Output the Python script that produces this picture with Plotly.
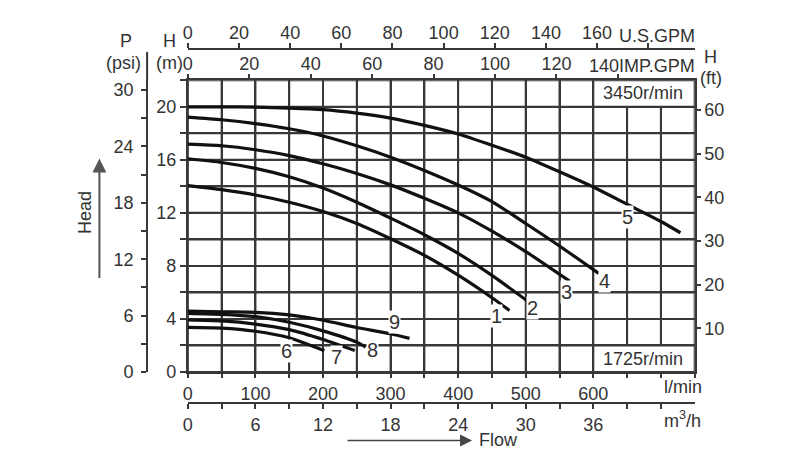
import plotly.graph_objects as go

# ---------------- data ----------------
# flow in l/min, head in m
c1_q = [0, 50, 100, 150, 200, 250, 300, 350, 400, 450, 476]
c1_h = [14.06, 13.75, 13.35, 12.8, 12.1, 11.2, 10.05, 8.8, 7.3, 5.6, 4.64]
c2_q = [0, 50, 100, 150, 200, 250, 300, 350, 400, 450, 504]
c2_h = [16.08, 15.8, 15.35, 14.72, 13.87, 12.8, 11.6, 10.35, 8.94, 7.28, 5.3]
c3_q = [0, 50, 100, 150, 200, 250, 300, 350, 400, 450, 500, 565]
c3_h = [17.18, 17.06, 16.76, 16.32, 15.7, 14.97, 14.11, 13.1, 12.0, 10.62, 9.08, 6.85]
c4_q = [0, 50, 100, 150, 200, 250, 300, 350, 400, 450, 500, 550, 608]
c4_h = [19.22, 19.02, 18.73, 18.34, 17.8, 17.06, 16.2, 15.2, 14.1, 12.85, 11.2, 9.5, 7.44]
c5_q = [0, 50, 100, 150, 200, 250, 300, 350, 400, 450, 500, 550, 600, 650, 700, 729]
c5_h = [20.0, 20.0, 19.97, 19.9, 19.78, 19.52, 19.15, 18.6, 17.95, 17.1, 16.2, 15.1, 13.95, 12.65, 11.35, 10.5]
c6_q = [0, 50, 100, 150, 202]
c6_h = [3.36, 3.31, 3.07, 2.58, 1.6]
c7_q = [0, 50, 100, 150, 200, 247]
c7_h = [3.93, 3.85, 3.61, 3.19, 2.45, 1.62]
c8_q = [0, 50, 100, 150, 200, 250, 263]
c8_h = [4.42, 4.35, 4.17, 3.75, 3.1, 2.25, 1.88]
c9_q = [0, 50, 100, 150, 200, 250, 300, 328]
c9_h = [4.59, 4.54, 4.5, 4.3, 3.9, 3.35, 2.88, 2.53]

curve_names = ["1", "2", "3", "4", "5", "6", "7", "8", "9"]
curve_label_q = [457, 510, 560, 616, 650, 146, 220, 273, 306]
curve_label_h = [4.2, 4.8, 6.0, 6.87, 11.65, 1.55, 1.1, 1.67, 3.75]

lpm_ticks = list(range(0, 751, 50))
lpm_labels = [0, 100, 200, 300, 400, 500, 600]
m3h_ticks = list(range(0, 43, 3))
m3h_labels = [0, 6, 12, 18, 24, 30, 36]
head_m_ticks = list(range(0, 23, 2))
head_m_labels = [0, 4, 8, 12, 16, 20]
psi_ticks = list(range(0, 31, 3))
psi_labels = [0, 6, 12, 18, 24, 30]
ft_labels = [10, 20, 30, 40, 50, 60]
usgpm_ticks = list(range(0, 181, 20))
usgpm_labels = [0, 20, 40, 60, 80, 100, 120, 140, 160]
impgpm_ticks = list(range(0, 141, 20))
impgpm_labels = [0, 20, 40, 60, 80, 100, 120]

# ---------------- styling ----------------
W, H = 800, 473
GC = "#383838"
TC = "#333333"
FONT = "Arial, Liberation Sans, sans-serif"
FS = 18


def px(xp):
    return xp / W


def py(yp):
    return (H - yp) / H


XD = [px(184), px(694)]
YD = [py(380), py(82)]


def lab(ticks, labels):
    return [str(t) if t in labels else "" for t in ticks]


fig = go.Figure()
curves = [(c1_q, c1_h), (c2_q, c2_h), (c3_q, c3_h), (c4_q, c4_h), (c5_q, c5_h),
          (c6_q, c6_h), (c7_q, c7_h), (c8_q, c8_h), (c9_q, c9_h)]
for q, h in curves:
    fig.add_trace(go.Scatter(x=q, y=h, mode="lines",
                             line=dict(color="#111111", width=3.2, shape="spline", smoothing=0.6),
                             hoverinfo="skip", showlegend=False))

# invisible traces so that the secondary axes are drawn
for xa, ya in [("x2", "y"), ("x3", "y"), ("x4", "y"), ("x", "y2"), ("x", "y3")]:
    fig.add_trace(go.Scatter(x=[0], y=[0], xaxis=xa, yaxis=ya, mode="markers",
                             marker=dict(opacity=0), hoverinfo="skip", showlegend=False))

tickfont = dict(family=FONT, size=FS, color=TC)
common = dict(tickfont=tickfont, tickcolor=GC, tickwidth=2, zeroline=False, fixedrange=True)

fig.update_layout(
    width=W, height=H, margin=dict(l=0, r=0, t=0, b=0),
    paper_bgcolor="white", plot_bgcolor="rgba(0,0,0,0)",
    font=dict(family=FONT, size=FS, color=TC),
    xaxis=dict(domain=XD, range=[0, 750], tickmode="array", tickvals=lpm_ticks,
               ticktext=lab(lpm_ticks, lpm_labels), showgrid=True, gridcolor=GC, gridwidth=2,
               showline=True, linecolor=GC, linewidth=2, mirror=True,
               ticks="outside", ticklen=4, **common),
    yaxis=dict(domain=YD, range=[0, 22], tickmode="array", tickvals=head_m_ticks,
               ticktext=lab(head_m_ticks, head_m_labels), showgrid=True, gridcolor=GC, gridwidth=2,
               showline=True, linecolor=GC, linewidth=2, mirror=True,
               ticks="outside", ticklen=6, **common),
    yaxis2=dict(overlaying="y", anchor="free", position=px(143), side="left",
                range=[0, 298 / 9.6], tickmode="array", tickvals=psi_ticks,
                ticktext=lab(psi_ticks, psi_labels), showgrid=False, ticklabelstandoff=4,
                showline=True, linecolor=GC, linewidth=2, ticks="outside", ticklen=5, **common),
    yaxis3=dict(overlaying="y", anchor="x", side="right", range=[0, 66.8],
                tickmode="array", tickvals=ft_labels, ticktext=[str(v) for v in ft_labels],
                showgrid=False, showline=False, ticks="outside", ticklen=5, **common),
    xaxis2=dict(overlaying="x", anchor="free", position=py(50), side="top",
                range=[0, 750 / 3.785], tickmode="array", tickvals=usgpm_ticks,
                ticktext=lab(usgpm_ticks, usgpm_labels), showgrid=False, ticklabelstandoff=-3,
                showline=True, linecolor=GC, linewidth=2, ticks="outside", ticklen=5, **common),
    xaxis3=dict(overlaying="x", anchor="y", side="top", range=[0, 750 / 4.546],
                tickmode="array", tickvals=impgpm_ticks, ticktext=lab(impgpm_ticks, impgpm_labels),
                showgrid=False, showline=False, ticklabelstandoff=-3,
                ticks="outside", ticklen=5, **common),
    xaxis4=dict(overlaying="x", anchor="free", position=py(412), side="bottom",
                range=[0, 45], tickmode="array", tickvals=m3h_ticks,
                ticktext=lab(m3h_ticks, m3h_labels), showgrid=False,
                showline=True, linecolor=GC, linewidth=2, ticks="outside", ticklen=5, **common),
)

# grid drawn from the tick arrays (data coordinates)
shapes = []
for t in lpm_ticks:
    shapes.append(dict(type="line", xref="x", yref="y", x0=t, x1=t, y0=0, y1=22,
                       line=dict(color=GC, width=2), layer="below"))
for t in head_m_ticks:
    shapes.append(dict(type="line", xref="x", yref="y", x0=0, x1=750, y0=t, y1=t,
                       line=dict(color=GC, width=2), layer="below"))
shapes += [
    dict(type="rect", xref="x", yref="y", x0=600, x1=750, y0=20, y1=22,
         fillcolor="white", line=dict(color=GC, width=2), layer="above"),
    dict(type="rect", xref="x", yref="y", x0=600, x1=750, y0=0, y1=2,
         fillcolor="white", line=dict(color=GC, width=2), layer="above"),
    dict(type="line", xref="paper", yref="paper", x0=px(143), x1=px(143),
         y0=py(82), y1=py(53), line=dict(color=GC, width=2)),
]
fig.update_layout(shapes=shapes)

ann = []


def text(x, y, t, size=FS, xanchor="center", **kw):
    ann.append(dict(x=x, y=y, xref="paper", yref="paper", text=t, showarrow=False,
                    xanchor=xanchor, yanchor="middle",
                    font=dict(family=FONT, size=size, color=TC), **kw))


text(px(122), py(41.5), "P")
text(px(119), py(64), "(psi)")
text(px(166), py(41.5), "H")
text(px(166), py(64), "(m)")
text(px(710), py(58), "H")
text(px(710), py(80), "(ft)")
text(px(656), py(37), "U.S.GPM")
text(px(696), py(67), "140IMP.GPM", xanchor="right")
text(px(661), py(395), "l/min", xanchor="left")
text(px(661), py(429), "m<sup>3</sup>/h", xanchor="left")
text(px(642), py(95), "3450r/min")
text(px(642), py(366.5), "1725r/min")
text(px(497), py(449), "Flow")
text(px(81), py(217), "Head", textangle=-90)

# arrows
ann.append(dict(x=px(470), y=py(450), xref="paper", yref="paper", ax=-126, ay=0,
                text="", showarrow=True, arrowhead=2, arrowsize=1.6, arrowwidth=1.5,
                arrowcolor="#444444"))
ann.append(dict(x=px(95), y=py(162), xref="paper", yref="paper", ax=0, ay=121,
                text="", showarrow=True, arrowhead=2, arrowsize=1.4, arrowwidth=2,
                arrowcolor="#555555"))

# curve number labels
for name, q, h in zip(curve_names, curve_label_q, curve_label_h):
    ann.append(dict(x=q, y=h, xref="x", yref="y", text=name, showarrow=False,
                    bgcolor="white", borderpad=0,
                    font=dict(family=FONT, size=20, color=TC)))

fig.update_layout(annotations=ann)
fig.write_html("out.html")
